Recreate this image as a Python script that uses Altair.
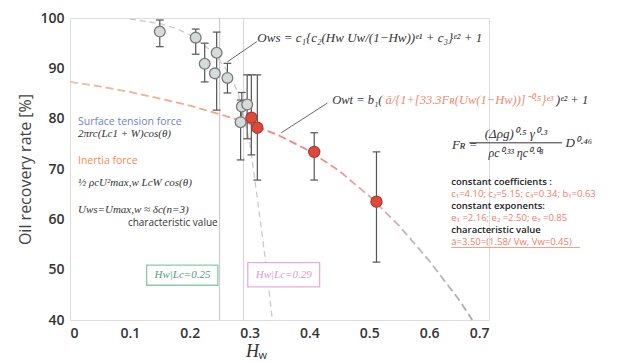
import altair as alt
import pandas as pd

# ---------------- data ----------------
gray_h = [0.150, 0.210, 0.225, 0.245, 0.242, 0.263, 0.287, 0.285, 0.296]
gray_o = [97.3, 96.1, 90.9, 93.1, 89.0, 88.1, 82.4, 79.3, 82.8]
gray_lo = [94.3, 92.8, 87.3, 81.7, 89.0, 85.1, 79.5, 71.8, 76.0]
gray_hi = [99.6, 97.8, 95.0, 97.2, 89.0, 91.0, 85.2, 83.7, 88.7]

red_h = [0.303, 0.313, 0.408, 0.512]
red_o = [80.2, 78.2, 73.4, 63.5]
red_lo = [72.8, 67.8, 67.8, 51.5]
red_hi = [88.7, 88.7, 77.2, 73.4]

# model curve O_wt (red dashed)
wt_h = [0.0, 0.05, 0.10, 0.15, 0.20, 0.25, 0.30, 0.35, 0.40, 0.45, 0.50, 0.55, 0.60, 0.65, 0.672]
wt_o = [87.3, 86.4, 85.3, 84.0, 82.6, 80.9, 79.0, 76.6, 73.6, 69.6, 64.6, 58.7, 51.8, 44.0, 40.0]

# model curve O_ws (gray dashed)
ws_h = [0.10, 0.15, 0.18, 0.21, 0.24, 0.26, 0.28, 0.30, 0.312, 0.322, 0.330, 0.338]
ws_o = [99.8, 98.9, 97.8, 96.0, 93.0, 90.0, 85.5, 75.5, 65.0, 56.0, 48.5, 40.0]

critical_h = [0.25, 0.29]
x_ticks = [0, 0.1, 0.2, 0.3, 0.4, 0.5, 0.6, 0.7]
y_ticks = [40, 50, 60, 70, 80, 90, 100]

# ---------------- scales ----------------
xs = alt.Scale(domain=[0, 0.7], nice=False, zero=False)
ys = alt.Scale(domain=[40, 100], nice=False, zero=False)

gray = pd.DataFrame({"h": gray_h, "o": gray_o, "lo": gray_lo, "hi": gray_hi})
red = pd.DataFrame({"h": red_h, "o": red_o, "lo": red_lo, "hi": red_hi})
for d in (gray, red):
    d["c1"] = d["h"] - 0.0065
    d["c2"] = d["h"] + 0.0065

X = lambda f="h": alt.X(f, type="quantitative", scale=xs)
Y = lambda f="o": alt.Y(f, type="quantitative", scale=ys)

base_x = alt.X("h:Q", scale=xs,
               axis=alt.Axis(values=x_ticks, title=None, ticks=False, domain=False, grid=False,
                             labelExpr="datum.value == 0 ? '0' : format(datum.value, '.1f')",
                             labelFont="Open Sans", labelFontSize=14, labelFontWeight=600,
                             labelColor="#333333", labelPadding=6))
base_y = alt.Y("o:Q", scale=ys,
               axis=alt.Axis(values=y_ticks, title="Oil recovery rate [%]", ticks=False, domain=False,
                             grid=False, labelFont="Open Sans", labelFontSize=14, labelFontWeight=600,
                             labelColor="#333333", labelPadding=6, titleFont="Open Sans",
                             titleFontSize=16, titleFontWeight="normal", titleColor="#444444",
                             titlePadding=6))

# vertical critical lines
vlines = alt.Chart(pd.DataFrame({"h": critical_h, "c": ["#c4c4c4", "#d8d0d8"]})).mark_rule(
    strokeWidth=1).encode(x=alt.X("h:Q", scale=xs), color=alt.Color("c:N", scale=None))

# gray model curve
ws_line = alt.Chart(pd.DataFrame({"h": ws_h, "o": ws_o})).mark_line(
    color="#cacaca", strokeDash=[6, 4], strokeWidth=1.3).encode(x=X(), y=Y())

# red model curve, colour fading along it
grad = alt.LinearGradient(gradient="linear", x1=0, x2=1, y1=0, y2=0, stops=[
    alt.GradientStop(color="#ecbf9f", offset=0.0),
    alt.GradientStop(color="#f3a685", offset=0.35),
    alt.GradientStop(color="#f0807a", offset=0.55),
    alt.GradientStop(color="#eea0a0", offset=0.72),
    alt.GradientStop(color="#bababa", offset=0.88),
    alt.GradientStop(color="#acacac", offset=1.0)])
wt_line = alt.Chart(pd.DataFrame({"h": wt_h, "o": wt_o})).mark_line(
    stroke=grad, strokeDash=[8, 4], strokeWidth=1.8).encode(x=base_x, y=base_y)

# leader lines
leaders = alt.Chart(pd.DataFrame({
    "h": [0.263, 0.353], "o": [91.3, 77.2], "h2": [0.312, 0.430], "o2": [95.3, 83.1]
})).mark_rule(color="#666666", strokeWidth=1).encode(
    x=X(), y=Y(), x2="h2:Q", y2="o2:Q")

def errbars(df):
    bar = alt.Chart(df).mark_rule(color="#555555", strokeWidth=1.2).encode(
        x=X(), y=Y("lo"), y2="hi:Q")
    cap_lo = alt.Chart(df).mark_rule(color="#555555", strokeWidth=1.2).encode(
        x=X("c1"), x2="c2:Q", y=Y("lo"))
    cap_hi = alt.Chart(df).mark_rule(color="#555555", strokeWidth=1.2).encode(
        x=X("c1"), x2="c2:Q", y=Y("hi"))
    return [bar, cap_lo, cap_hi]

gray_pts = alt.Chart(gray).mark_point(
    filled=True, shape="circle", size=115, fill="#d5dada", stroke="#7a7a7a",
    strokeWidth=1.3, opacity=1).encode(x=X(), y=Y())
red_pts = alt.Chart(red).mark_point(
    filled=True, shape="circle", size=125, fill="#dc4a3c", stroke="#a93a30",
    strokeWidth=1.2, opacity=1).encode(x=X(), y=Y())

# boxes
boxes = pd.DataFrame({"h": [0.128, 0.297], "h2": [0.247, 0.417], "o": [46.9, 46.6],
                      "o2": [50.9, 51.4], "c": ["#8cc7ad", "#e6aee0"]})
box_layer = alt.Chart(boxes).mark_rect(fill="white", strokeWidth=1.3).encode(
    x=X(), x2="h2:Q", y=Y(), y2="o2:Q", stroke=alt.Stroke("c:N", scale=None))


def txt(items, **kw):
    df = pd.DataFrame(items, columns=["h", "o", "t"])
    return alt.Chart(df).mark_text(**kw).encode(x=X(), y=Y(), text="t:N")

serif = "Liberation Serif"
sans = "Open Sans"

box_txt = [
    txt([(0.188, 48.9, "Hw|Lc=0.25")], font=serif, fontStyle="italic", fontSize=11, color="#4f9e80"),
    txt([(0.357, 49.0, "Hw|Lc=0.29")], font=serif, fontStyle="italic", fontSize=11, color="#dc98d8"),
]

left_block = [
    txt([(0.0133, 79.3, "Surface tension force")], font=sans, fontSize=10.5, color="#6f7fd2", align="left"),
    txt([(0.0133, 76.9, "2πrc(Lc1 + W)cos(θ)")], font=serif, fontStyle="italic", fontSize=11, color="#333333", align="left"),
    txt([(0.0133, 71.6, "Inertia force")], font=sans, fontSize=10.5, color="#f08a50", align="left"),
    txt([(0.0133, 67.2, "½ ρcU²max,w LcW cos(θ)")], font=serif, fontStyle="italic", fontSize=11, color="#333333", align="left"),
    txt([(0.0133, 61.8, "Uws=Umax,w ≈ δc(n=3)")], font=serif, fontStyle="italic", fontSize=11, color="#333333", align="left"),
    txt([(0.0967, 59.3, "characteristic value")], font=sans, fontSize=10, color="#333333", align="left"),
]

formulas = [
    txt([(0.313, 96.0, "Ows = c₁{c₂(Hw Uw/(1−Hw))ᵉ¹ + c₃}ᵉ² + 1")], font=serif, fontStyle="italic",
        fontSize=13, color="#333333", align="left"),
    txt([(0.438, 83.7, "Owt = b₁(")], font=serif, fontStyle="italic", fontSize=12.5, color="#333333", align="left"),
    txt([(0.527, 83.7, "ā/{1+[33.3Fʀ(Uw(1−Hw))]⁻⁰·⁵}ᵉ³")], font=serif, fontStyle="italic", fontSize=12.5,
        color="#ee8a70", align="left"),
    txt([(0.812, 83.7, ")ᵉ² + 1")], font=serif, fontStyle="italic", fontSize=12.5, color="#333333", align="left"),
    txt([(0.638, 74.8, "Fʀ =")], font=serif, fontStyle="italic", fontSize=13, color="#333333", align="left"),
    txt([(0.745, 77.0, "(Δρg)⁰·⁵ γ⁰·³")], font=serif, fontStyle="italic", fontSize=13, color="#333333"),
    txt([(0.745, 73.1, "ρc⁰·³³ ηc⁰·⁰⁸")], font=serif, fontStyle="italic", fontSize=12, color="#333333"),
    txt([(0.828, 75.2, "D⁰·⁴⁶")], font=serif, fontStyle="italic", fontSize=13, color="#333333", align="left"),
]
frac = alt.Chart(pd.DataFrame({"h": [0.667], "h2": [0.822], "o": [75.2]})).mark_rule(
    color="#333333", strokeWidth=1).encode(x=X(), x2="h2:Q", y=Y())

right_block = [
    txt([(0.637, 67.4, "constant coefficients :")], font=sans, fontSize=9.5, fontWeight=600, color="#222222", align="left"),
    txt([(0.637, 65.0, "c₁=4.10; c₂=5.15; c₃=0.34; b₁=0.63")], font=sans, fontSize=9.5, color="#ef7d6a", align="left"),
    txt([(0.637, 62.6, "constant exponents:")], font=sans, fontSize=9.5, fontWeight=600, color="#222222", align="left"),
    txt([(0.637, 60.2, "e₁ =2.16;  e₂ =2.50;  e₃ =0.85")], font=sans, fontSize=9.5, color="#ef7d6a", align="left"),
    txt([(0.637, 57.8, "characteristic value")], font=sans, fontSize=9.5, fontWeight=600, color="#222222", align="left"),
    txt([(0.637, 55.4, "ā=3.50=(1.58/ Vw, Vw=0.45)")], font=sans, fontSize=9.5, color="#ef7d6a", align="left"),
]
underline = alt.Chart(pd.DataFrame({"h": [0.637], "h2": [0.852], "o": [54.4]})).mark_rule(
    color="#f2a080", strokeWidth=1).encode(x=X(), x2="h2:Q", y=Y())

# x-axis title H_w
xtitle = [
    txt([(0.305, 33.7, "H")], font=serif, fontStyle="italic", fontSize=18, color="#333333"),
    txt([(0.322, 32.8, "w")], font=sans, fontSize=11, color="#333333"),
]

layers = ([wt_line, vlines, ws_line, leaders] + errbars(gray) + errbars(red) +
          [gray_pts, red_pts, box_layer] + box_txt + left_block + formulas + [frac] +
          right_block + [underline] + xtitle)

chart = alt.layer(*layers).properties(
    width=419, height=302,
    padding={"left": 62, "top": 10, "right": 120, "bottom": 42},
    autosize=alt.AutoSizeParams(type="none"),
).configure_view(stroke="#d4d4d4", strokeWidth=1).configure(background="white")

chart.save("out.html", embed_options={"renderer": "svg", "actions": False})
